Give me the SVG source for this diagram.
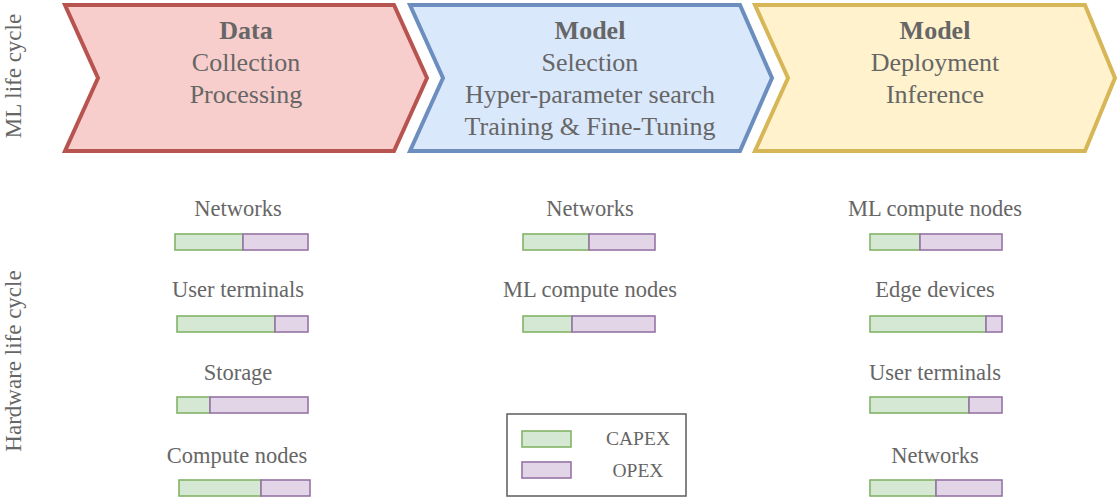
<svg xmlns="http://www.w3.org/2000/svg" width="1118" height="499" viewBox="0 0 1118 499">
<style>
text{font-family:"Liberation Serif","Times New Roman",serif;fill:#666666;text-anchor:middle}
.t{font-size:26px}
.b{font-weight:bold}
.h{font-size:22.5px}
.s{font-size:23px}
.l{font-size:19.5px}
.cap{fill:#d5e8d4;stroke:#82b366;stroke-width:1.6}
.opx{fill:#e1d5e7;stroke:#9673a6;stroke-width:1.6}
.chev{stroke-width:4;stroke-linejoin:miter}
</style>
<rect width="1118" height="499" fill="#ffffff"/>
<g id="side-labels">
<text class="s" transform="translate(21,76) rotate(-90)">ML life cycle</text>
<text class="s" transform="translate(21,361) rotate(-90)">Hardware life cycle</text>
</g>
<g id="stage-data">
<path class="chev" d="M65,5 L394,5 L427,78 L394,151 L65,151 L98,78 Z" fill="#f8cecc" stroke="#b85450"/>
<text class="t b" x="246" y="39">Data</text>
<text class="t" x="246" y="71">Collection</text>
<text class="t" x="246" y="103">Processing</text>
</g>
<g id="stage-model-selection">
<path class="chev" d="M410,5 L740,5 L772,78 L740,151 L410,151 L443,78 Z" fill="#dae8fc" stroke="#6c8ebf"/>
<text class="t b" x="590" y="39">Model</text>
<text class="t" x="590" y="71">Selection</text>
<text class="t" x="590" y="103">Hyper-parameter search</text>
<text class="t" x="590" y="135">Training &amp; Fine-Tuning</text>
</g>
<g id="stage-model-deployment">
<path class="chev" d="M755,5 L1085,5 L1115,78 L1085,151 L755,151 L788,78 Z" fill="#fff2cc" stroke="#d6b656"/>
<text class="t b" x="935" y="39">Model</text>
<text class="t" x="935" y="71">Deployment</text>
<text class="t" x="935" y="103">Inference</text>
</g>
<g id="col1">
<g id="c1-networks">
<text class="h" x="238" y="216">Networks</text>
<rect class="cap" x="175" y="234" width="68" height="16"/>
<rect class="opx" x="243" y="234" width="65" height="16"/>
</g>
<g id="c1-user-terminals">
<text class="h" x="238" y="297">User terminals</text>
<rect class="cap" x="177" y="316" width="98" height="16"/>
<rect class="opx" x="275" y="316" width="33" height="16"/>
</g>
<g id="c1-storage">
<text class="h" x="238" y="380">Storage</text>
<rect class="cap" x="177" y="397" width="33" height="16"/>
<rect class="opx" x="210" y="397" width="98" height="16"/>
</g>
<g id="c1-compute-nodes">
<text class="h" x="237" y="463">Compute nodes</text>
<rect class="cap" x="179" y="480" width="82" height="16"/>
<rect class="opx" x="261" y="480" width="49" height="16"/>
</g>
</g>
<g id="col2">
<g id="c2-networks">
<text class="h" x="590" y="216">Networks</text>
<rect class="cap" x="523" y="234" width="66" height="16"/>
<rect class="opx" x="589" y="234" width="66" height="16"/>
</g>
<g id="c2-ml-compute">
<text class="h" x="590" y="297">ML compute nodes</text>
<rect class="cap" x="523" y="316" width="49" height="16"/>
<rect class="opx" x="572" y="316" width="83" height="16"/>
</g>
</g>
<g id="col3">
<g id="c3-ml-compute">
<text class="h" x="935" y="216">ML compute nodes</text>
<rect class="cap" x="870" y="234" width="50" height="16"/>
<rect class="opx" x="920" y="234" width="82" height="16"/>
</g>
<g id="c3-edge">
<text class="h" x="935" y="297">Edge devices</text>
<rect class="cap" x="870" y="316" width="116" height="16"/>
<rect class="opx" x="986" y="316" width="16" height="16"/>
</g>
<g id="c3-user-terminals">
<text class="h" x="935" y="380">User terminals</text>
<rect class="cap" x="870" y="397" width="99" height="16"/>
<rect class="opx" x="969" y="397" width="33" height="16"/>
</g>
<g id="c3-networks">
<text class="h" x="935" y="463">Networks</text>
<rect class="cap" x="870" y="480" width="66" height="16"/>
<rect class="opx" x="936" y="480" width="66" height="16"/>
</g>
</g>
<g id="legend">
<rect x="507" y="414" width="179" height="82" fill="#ffffff" stroke="#666666" stroke-width="1.6"/>
<rect class="cap" x="522" y="431" width="49" height="16"/>
<rect class="opx" x="522" y="462" width="49" height="16"/>
<text class="l" x="638" y="445">CAPEX</text>
<text class="l" x="638" y="477">OPEX</text>
</g>
<g id="connectors"></g>
</svg>
